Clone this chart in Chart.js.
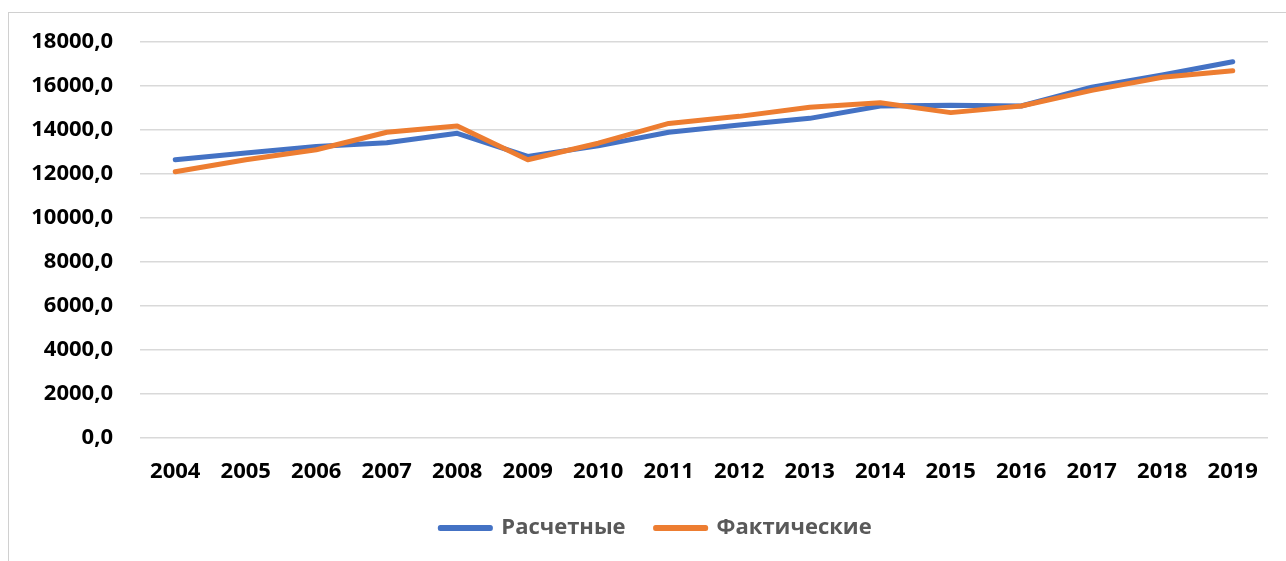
<!DOCTYPE html>
<html>
<head>
<meta charset="utf-8">
<script src="https://cdn.jsdelivr.net/npm/chart.js@4/dist/chart.umd.min.js"></script>
<style>
  html, body { margin: 0; padding: 0; background: #fff; }
  #wrap { position: relative; width: 1286px; height: 561px; overflow: hidden; }
  #frame { position: absolute; left: 8px; top: 12px; width: 1400px; height: 700px; border: 1px solid #d0d0d0; box-sizing: border-box; }
  #grafico { position: absolute; left: 0; top: 0; }
</style>
</head>
<body>
<div id="wrap">
  <div id="frame"></div>
  <canvas id="grafico" width="1286" height="561"></canvas>
</div>
<script>
// datos
const anios = ['2004', '2005', '2006', '2007', '2008', '2009', '2010', '2011',
               '2012', '2013', '2014', '2015', '2016', '2017', '2018', '2019'];
const raschetnye = [12650, 12950, 13250, 13420, 13850, 12800, 13280, 13900,
                    14230, 14530, 15090, 15130, 15090, 15950, 16500, 17100];
const fakticheskie = [12100, 12650, 13100, 13900, 14180, 12650, 13400, 14300,
                      14620, 15030, 15240, 14790, 15090, 15800, 16400, 16690];
const ejeY = { min: 0, max: 18000, paso: 2000 };

const fuente = { family: '"Open Sans", sans-serif', size: 22, weight: 'bold' };

// la leyenda del original esta un poco a la derecha del centro
const moverLeyenda = {
    id: 'moverLeyenda',
    afterLayout(chart) {
        chart.legend.left += 22;
        chart.legend.right += 22;
    }
};

new Chart(document.getElementById('grafico'), {
    type: 'line',
    data: {
        labels: anios,
        datasets: [
            { label: 'Расчетные', data: raschetnye, borderColor: '#4472C4', backgroundColor: '#4472C4',
              borderWidth: 5, pointRadius: 0, tension: 0, order: 1, borderCapStyle: 'round', borderJoinStyle: 'round' },
            { label: 'Фактические', data: fakticheskie, borderColor: '#ED7D31', backgroundColor: '#ED7D31',
              borderWidth: 5, pointRadius: 0, tension: 0, order: 0, borderCapStyle: 'round', borderJoinStyle: 'round' }
        ]
    },
    plugins: [moverLeyenda],
    options: {
        responsive: false,
        animation: false,
        layout: { padding: { top: 42, right: 18, bottom: 12, left: 0 } },
        plugins: {
            tooltip: { enabled: false },
            legend: {
                position: 'bottom',
                labels: {
                    boxWidth: 50, boxHeight: 1, padding: 30,
                    color: '#595959',
                    font: { family: '"Open Sans", sans-serif', size: 22, weight: 'bold' },
                    sort: (a, b) => a.datasetIndex - b.datasetIndex
                }
            }
        },
        scales: {
            x: {
                offset: true,
                grid: { display: false, drawTicks: false },
                border: { display: false },
                ticks: { color: '#000', font: fuente, padding: 21, maxRotation: 0, autoSkip: false },
                afterFit: s => { s.height = 49; }
            },
            y: {
                min: ejeY.min, max: ejeY.max,
                grid: { color: '#d9d9d9', lineWidth: 1.5, drawTicks: false },
                border: { display: false },
                ticks: {
                    stepSize: ejeY.paso, color: '#000', font: fuente, padding: 27,
                    callback: v => v.toFixed(1).replace('.', ',')
                },
                afterFit: s => { s.width = 140; }
            }
        }
    }
});
</script>
</body>
</html>
